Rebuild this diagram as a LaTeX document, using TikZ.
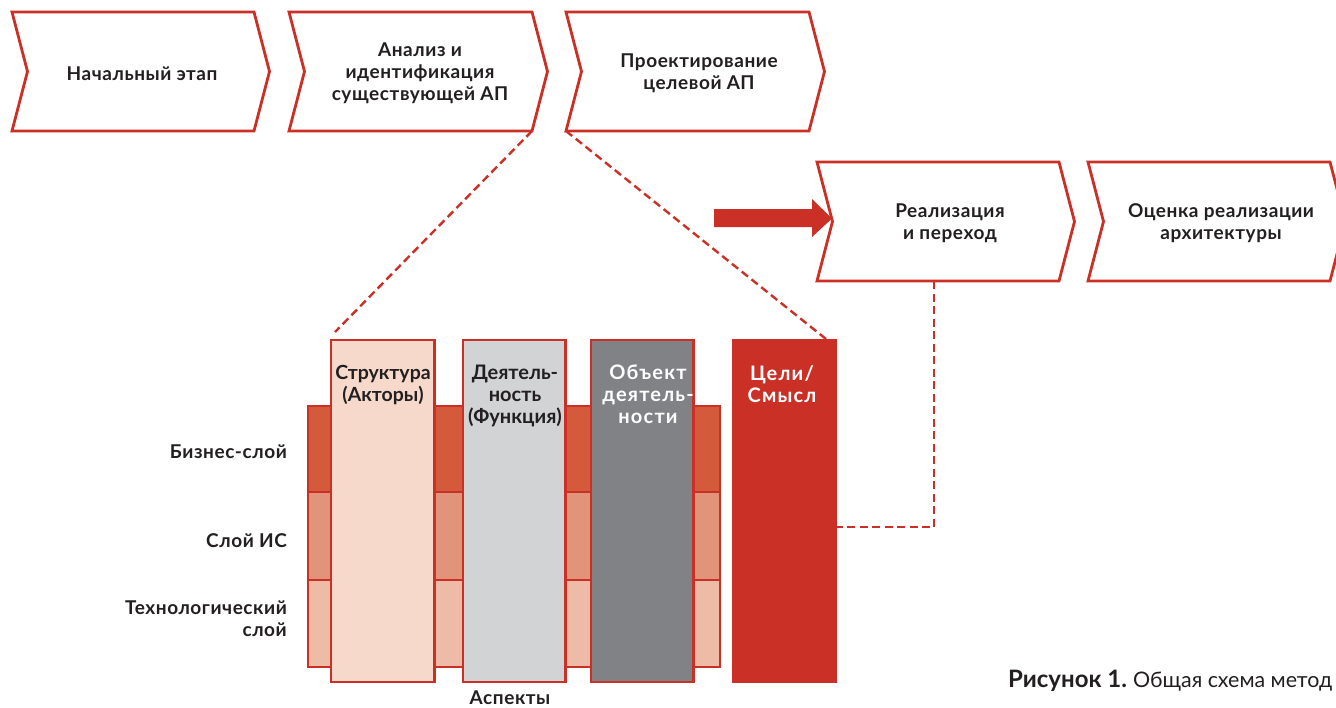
\documentclass[tikz,border=0pt]{standalone}
\usepackage{fontspec}
\setmainfont{Lato}
\newfontfamily\spaced[LetterSpace=3]{Lato}
\newfontfamily\widespaced[LetterSpace=6]{Lato}
\definecolor{rd}{HTML}{CB3026}
\definecolor{txt}{HTML}{231F20}
\definecolor{lay1}{HTML}{D35B3B}
\definecolor{lay2}{HTML}{E2947A}
\definecolor{lay3}{HTML}{EDBBA6}
\definecolor{colA}{HTML}{F6D9CA}
\definecolor{colB}{HTML}{D1D3D4}
\definecolor{colC}{HTML}{808285}
\tikzset{
 chevbox/.style={draw=rd,line width=2.8pt,fill=white,miter limit=10},
 chevtext/.style={font=\spaced\fontsize{19}{22}\selectfont\bfseries,text=txt,align=center,inner sep=0pt},
 layerbox/.style={draw=rd,line width=2.8pt,anchor=north west,inner sep=0pt,outer sep=0pt},
 colbox/.style={draw=rd,line width=2.8pt,anchor=north west,inner sep=0pt,outer sep=0pt},
 coltext/.style={align=center,inner sep=0pt,anchor=north},
 coltextw/.style={font=\widespaced\fontsize{20}{22}\selectfont\bfseries,align=center,inner sep=0pt,anchor=north,text=white},
 sidelabel/.style={font=\spaced\fontsize{19}{22}\selectfont\bfseries,text=txt,align=right,anchor=east,inner sep=0pt},
 dashline/.style={draw=rd,line width=2.4pt,dash pattern=on 8pt off 4.5pt},
}
% [text shift] name, left, top, right, bottom, text
\newcommand{\chevron}[7][12]{%
 \pgfmathsetmacro{\midy}{(#4+#6)/2}%
 \path[chevbox] (#3,#4) -- (#5,#4) -- (#5+15.5,\midy) -- (#5,#6) -- (#3,#6) -- (#3+15.5,\midy) -- cycle;
 \coordinate (#2bl) at (#3,#6);
 \coordinate (#2br) at (#5,#6);
 \node[chevtext] (#2) at ({(#3+#5)/2+#1},\midy+2) {#7};
}
\begin{document}
\begin{tikzpicture}[x=1pt,y=-1pt]
\useasboundingbox (0,0) rectangle (1336,707);
\clip (0,0) rectangle (1336,707);
\fill[white] (0,0) rectangle (1336,707);
% layers
\node[layerbox,fill=lay1,minimum width=412pt,minimum height=86pt] (l1) at (308,406) {};
\node[layerbox,fill=lay2,minimum width=412pt,minimum height=88pt] (l2) at (308,492) {};
\node[layerbox,fill=lay3,minimum width=412pt,minimum height=87pt] (l3) at (308,580) {};
% columns
\node[colbox,fill=colA,minimum width=103.5pt,minimum height=342pt] (a) at (331,340) {};
\node[colbox,fill=colB,minimum width=102.5pt,minimum height=342pt] (b) at (463,340) {};
\node[colbox,fill=colC,minimum width=102.5pt,minimum height=342pt] (c) at (591,340) {};
\node[anchor=north west,fill=rd,inner sep=0pt,outer sep=0pt,minimum width=105pt,minimum height=344pt] (d) at (732,339) {};
\node[coltext,text=txt,font=\fontsize{19.5}{22}\selectfont\bfseries] (at) at (383,365) {Структура\\(Акторы)};
\node[coltext,text=txt,font=\fontsize{20}{22}\selectfont\bfseries] (bt) at (515,365) {Деятель-\\ность\\(Функция)};
\node[coltextw] (ct) at (648,365) {Объект\\деятель-\\ности};
\node[coltextw] (dt) at (782,365) {Цели/\\Смысл};
% chevrons
\chevron[9]{s1}{12}{12}{254}{131}{Начальный этап}
\chevron[9.5]{s2}{289}{12}{532}{131}{Анализ и\\идентификация\\существующей АП}
\chevron[11.5]{s3}{566}{12}{809}{131}{Проектирование\\целевой АП}
\chevron{s4}{817}{162}{1059}{281}{Реализация\\и переход}
\chevron{s5}{1088}{162}{1330}{281}{Оценка реализации\\архитектуры}
% thick arrow
\coordinate (arrowstart) at (714,218);
\coordinate (arrowtip) at (832,218.5);
\fill[rd] (arrowstart) ++(0,-9) -- ++(98,0) -- ++(0,-10) -- (arrowtip) -- (812,237) -- ++(0,-10) -- (714,227) -- cycle;
% dashed connectors
\coordinate (aTop) at (335,332);
\coordinate (dTop) at (826,339);
\coordinate (s4drop) at (934,281);
\coordinate (bend) at (934,527);
\coordinate (dSide) at (837,527);
\draw[dashline] (s2br) -- (aTop);
\draw[dashline] (s3bl) -- (dTop);
\draw[dashline] (s4drop) -- (bend) -- (dSide);
% side labels
\node[sidelabel] (ll1) at (287,452) {Бизнес-слой};
\node[sidelabel] (ll2) at (287,541) {Слой ИС};
\node[sidelabel] (ll3) at (287,618.5) {Технологический\\слой};
\node[font=\spaced\fontsize{19}{22}\selectfont\bfseries,text=txt,inner sep=0pt] (asp) at (510,698) {Аспекты};
\node[text=txt,anchor=west,inner sep=0pt] (cap) at (1008,681) {\fontsize{24}{24}\selectfont\bfseries Рисунок 1.\hspace{6pt}\fontsize{21.4}{24}\selectfont\mdseries Общая схема метод};
\end{tikzpicture}
\end{document}
